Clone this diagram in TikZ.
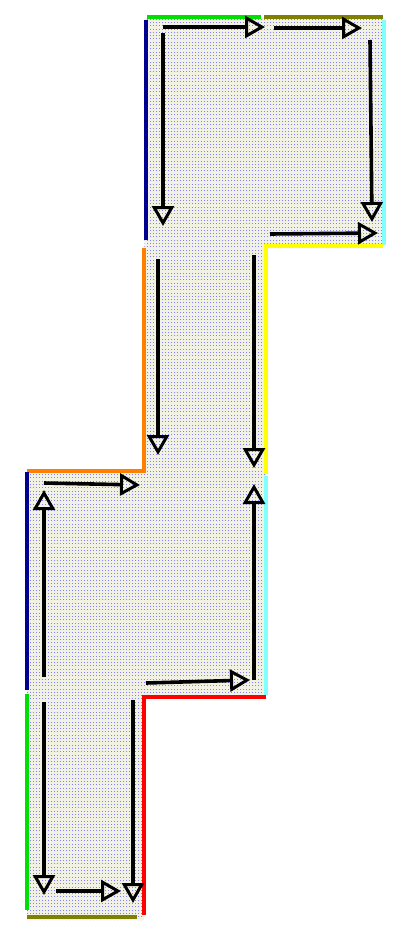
\documentclass[tikz,border=0pt]{standalone}
\usetikzlibrary{arrows.meta}
\definecolor{wnavy}{HTML}{000090}
\definecolor{wgreen}{HTML}{00E000}
\definecolor{wolive}{HTML}{808000}
\definecolor{wcyan}{HTML}{80FFFF}
\definecolor{wyellow}{HTML}{FFFF00}
\definecolor{worange}{HTML}{FF8000}
\definecolor{wred}{HTML}{FF0000}
\definecolor{floor}{RGB}{242,242,228}
\tikzset{
	flow/.style={line width=3.6pt, -{Triangle[open, length=20pt, width=22pt, line width=3pt]}},
	wall/.style={line width=4.2pt},
}

\begin{document}
\begin{tikzpicture}[x=1pt, y=-1pt]
			\useasboundingbox (0,0) rectangle (410,942);

			% floor area
			\fill[floor] (145,18) -- (384,18) -- (384,246) -- (266,246) -- (266,696) -- (144,696)
				-- (144,920) -- (27,920) -- (27,471) -- (144,471) -- cycle;
			\begin{scope}
				\clip (145,18) -- (384,18) -- (384,246) -- (266,246) -- (266,696) -- (144,696)
					-- (144,920) -- (27,920) -- (27,471) -- (144,471) -- cycle;
				\foreach \y in {19,22.3,...,922}
					\draw[blue!50, line width=0.7pt, dash pattern=on 0.7pt off 2.3pt] (0,\y) -- (410,\y);
			\end{scope}

			% walls
			\draw[wall, wnavy] (146,20) -- (146,240);
			\draw[wall, wgreen] (147,17) -- (261,17);
			\draw[wall, wolive] (264,17) -- (383,17);
			\draw[wall, wcyan] (384,20) -- (384,245);
			\draw[wall, wyellow] (383,246) -- (266,246) -- (266,474);
			\draw[wall, worange] (144,248) -- (144,471) -- (27,471);
			\draw[wall, wnavy] (27,472) -- (27,690);
			\draw[wall, wcyan] (266,476) -- (266,695);
			\draw[wall, wred] (266,697) -- (144,697) -- (144,915);
			\draw[wall, wgreen] (27,694) -- (27,910);
			\draw[wall, wolive] (27,917) -- (137,917);

			% flow, top block
			\coordinate (t1s) at (163,27);  \coordinate (t1e) at (265,27);
			\coordinate (t2s) at (274,28);  \coordinate (t2e) at (362,28);
			\coordinate (t3s) at (163,33);  \coordinate (t3e) at (163,226);
			\coordinate (t4s) at (370,40);  \coordinate (t4e) at (372,222);
			\coordinate (t5s) at (270,234); \coordinate (t5e) at (378,233);
			\draw[flow] (t1s) -- (t1e);
			\draw[flow] (t2s) -- (t2e);
			\draw[flow] (t3s) -- (t3e);
			\draw[flow] (t4s) -- (t4e);
			\draw[flow] (t5s) -- (t5e);

			% flow, middle
			\coordinate (m1s) at (158,259); \coordinate (m1e) at (158,455);
			\coordinate (m2s) at (254,255); \coordinate (m2e) at (254,468);
			\draw[flow] (m1s) -- (m1e);
			\draw[flow] (m2s) -- (m2e);

			% flow, lower block
			\coordinate (l1s) at (44,677);  \coordinate (l1e) at (44,490);
			\coordinate (l2s) at (44,483);  \coordinate (l2e) at (140,485);
			\coordinate (l3s) at (254,680); \coordinate (l3e) at (254,484);
			\coordinate (l4s) at (146,683); \coordinate (l4e) at (250,680);
			\draw[flow] (l1s) -- (l1e);
			\draw[flow] (l2s) -- (l2e);
			\draw[flow] (l3s) -- (l3e);
			\draw[flow] (l4s) -- (l4e);

			% flow, bottom
			\coordinate (b1s) at (44,702);  \coordinate (b1e) at (44,895);
			\coordinate (b2s) at (56,891);  \coordinate (b2e) at (121,891);
			\coordinate (b3s) at (133,700); \coordinate (b3e) at (133,903);
			\draw[flow] (b1s) -- (b1e);
			\draw[flow] (b2s) -- (b2e);
			\draw[flow] (b3s) -- (b3e);
		\end{tikzpicture}
\end{document}
